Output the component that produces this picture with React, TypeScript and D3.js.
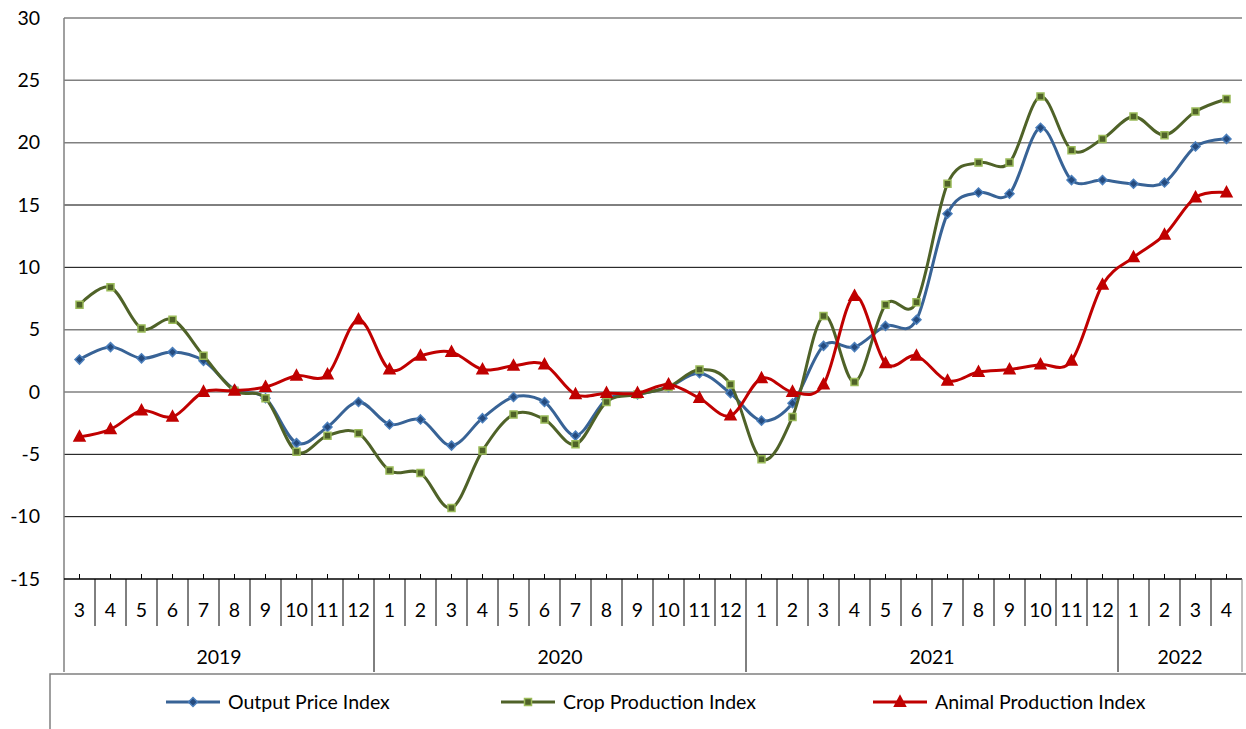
import React, { useRef, useEffect } from "react";
import * as d3 from "d3";

const years = [
  { year: "2019", months: [3, 4, 5, 6, 7, 8, 9, 10, 11, 12] },
  { year: "2020", months: [1, 2, 3, 4, 5, 6, 7, 8, 9, 10, 11, 12] },
  { year: "2021", months: [1, 2, 3, 4, 5, 6, 7, 8, 9, 10, 11, 12] },
  { year: "2022", months: [1, 2, 3, 4] },
];

const outputPrice = [
  2.6, 3.6, 2.7, 3.2, 2.5, 0.2, -0.5, -4.1, -2.8, -0.8,
  -2.6, -2.2, -4.3, -2.1, -0.4, -0.8, -3.5, -0.6, -0.2, 0.4, 1.5, -0.1,
  -2.3, -0.9, 3.7, 3.6, 5.3, 5.8, 14.3, 16.0, 15.9, 21.2, 17.0, 17.0,
  16.7, 16.8, 19.7, 20.3,
];
const cropProduction = [
  7.0, 8.4, 5.1, 5.8, 2.9, 0.1, -0.5, -4.8, -3.5, -3.3,
  -6.3, -6.5, -9.3, -4.7, -1.8, -2.2, -4.2, -0.8, -0.2, 0.4, 1.8, 0.6,
  -5.4, -2.0, 6.1, 0.8, 7.0, 7.2, 16.7, 18.4, 18.4, 23.7, 19.4, 20.3,
  22.1, 20.6, 22.5, 23.5,
];
const animalProduction = [
  -3.6, -3.0, -1.5, -2.0, 0.0, 0.1, 0.4, 1.3, 1.4, 5.8,
  1.8, 2.9, 3.2, 1.8, 2.1, 2.2, -0.2, -0.1, -0.1, 0.6, -0.5, -1.9,
  1.1, 0.0, 0.6, 7.7, 2.3, 2.9, 0.9, 1.6, 1.8, 2.2, 2.5, 8.6,
  10.8, 12.6, 15.6, 16.0,
];
const yTicks = [30, 25, 20, 15, 10, 5, 0, -5, -10, -15];
const darkGrid = [15, 10, -5, -10];

const series = [
  { name: "Output Price Index", values: outputPrice, color: "#386396", marker: "diamond", mFill: "#254B7E", mStroke: "#4A7EBB" },
  { name: "Crop Production Index", values: cropProduction, color: "#4F6228", marker: "square", mFill: "#4F6228", mStroke: "#9BBB59" },
  { name: "Animal Production Index", values: animalProduction, color: "#C00000", marker: "triangle", mFill: "#C00000", mStroke: "#C00000" },
];

const App: React.FC = () => {
  const ref = useRef<SVGSVGElement | null>(null);
  const width = 1246;
  const height = 729;
  const left = 64, right = 1242, top = 18, bottom = 579;
  const font = "Lato, 'Noto Sans', sans-serif";

  useEffect(() => {
    const svg = d3.select(ref.current);
    svg.selectAll("*").remove();

    const cats: string[] = [];
    years.forEach((y) => y.months.forEach((m) => cats.push(y.year + "-" + m)));

    const x = d3.scaleBand().domain(cats).range([left, right]);
    const y = d3.scaleLinear().domain([-15, 30]).range([bottom, top]);
    const cx = (i: number) => (x(cats[i]) as number) + x.bandwidth() / 2;

    // grid
    yTicks.forEach((t) => {
      if (t === -15) return;
      const dark = darkGrid.includes(t);
      svg.append("line")
        .attr("x1", left).attr("x2", right)
        .attr("y1", y(t)).attr("y2", y(t))
        .attr("stroke", dark ? "#000" : "#808080")
        .attr("stroke-width", dark ? 1 : 1.5);
      });
    svg.append("g").selectAll("text").data(yTicks).join("text")
      .attr("x", 40).attr("y", (d) => y(d)).attr("dy", "0.35em")
      .attr("text-anchor", "end").attr("font-size", 19.5).attr("font-family", font)
      .text((d) => d);

    // axes
    svg.append("line").attr("x1", left).attr("x2", left).attr("y1", top).attr("y2", 672)
      .attr("stroke", "#808080").attr("stroke-width", 1.5);
    svg.append("line").attr("x1", left).attr("x2", right).attr("y1", bottom).attr("y2", bottom)
      .attr("stroke", "#000").attr("stroke-width", 1.5);
    svg.append("line").attr("x1", right).attr("x2", right).attr("y1", bottom).attr("y2", 672)
      .attr("stroke", "#808080").attr("stroke-width", 1);

    // category ticks and labels
    let idx = 0;
    years.forEach((yr, yi) => {
      const start = idx;
      yr.months.forEach((m, mi) => {
        const c = cx(idx);
        svg.append("line").attr("x1", c).attr("x2", c).attr("y1", bottom - 5).attr("y2", bottom)
          .attr("stroke", "#000").attr("stroke-width", 1);
        svg.append("text").attr("x", c).attr("y", 610).attr("dy", "0.35em")
          .attr("text-anchor", "middle").attr("font-size", 19.5).attr("font-family", font)
          .text(m);
        if (mi > 0) {
          const bx = x(cats[idx]) as number;
          svg.append("line").attr("x1", bx).attr("x2", bx).attr("y1", bottom).attr("y2", 626)
            .attr("stroke", "#000").attr("stroke-width", 1);
        }
        idx++;
      });
      const x0 = x(cats[start]) as number;
      const x1 = (x(cats[idx - 1]) as number) + x.bandwidth();
      if (yi > 0) {
        svg.append("line").attr("x1", x0).attr("x2", x0).attr("y1", bottom).attr("y2", 672)
          .attr("stroke", "#000").attr("stroke-width", 1);
      }
      svg.append("text").attr("x", (x0 + x1) / 2).attr("y", 657).attr("dy", "0.35em")
        .attr("text-anchor", "middle").attr("font-size", 19.5).attr("font-family", font)
        .text(yr.year);
    });

    // legend box
    svg.append("path").attr("d", `M50,${height}V674H${width}`)
      .attr("fill", "none").attr("stroke", "#808080").attr("stroke-width", 1.5);

    const markerPath = (type: string, s: number) => {
      if (type === "diamond") return `M0,${-s}L${s},0L0,${s}L${-s},0Z`;
      if (type === "square") return `M${-s},${-s}H${s}V${s}H${-s}Z`;
      return `M0,${-s * 1.1}L${s},${s * 0.75}H${-s}Z`;
    };
    const markerSize = (type: string) => (type === "diamond" ? 4.5 : type === "square" ? 3.5 : 5.5);

    const line = d3.line<number>()
      .x((_, i) => cx(i))
      .y((d) => y(d))
      .curve(d3.curveCardinal.tension(0));

    series.forEach((s) => {
      const g = svg.append("g");
      g.append("path").attr("d", line(s.values) as string)
        .attr("fill", "none").attr("stroke", s.color).attr("stroke-width", 3)
        .attr("stroke-linejoin", "round");
      g.selectAll("path.m").data(s.values).join("path").attr("class", "m")
        .attr("transform", (d, i) => `translate(${cx(i)},${y(d)})`)
        .attr("d", markerPath(s.marker, markerSize(s.marker)))
        .attr("fill", s.mFill).attr("stroke", s.mStroke).attr("stroke-width", 1.5);
    });

    // legend items
    const legendX = [166, 501, 873];
    series.forEach((s, i) => {
      const lx = legendX[i];
      const ly = 702;
      svg.append("line").attr("x1", lx).attr("x2", lx + 54).attr("y1", ly).attr("y2", ly)
        .attr("stroke", s.color).attr("stroke-width", 3);
      svg.append("path").attr("transform", `translate(${lx + 27},${ly})`)
        .attr("d", markerPath(s.marker, markerSize(s.marker)))
        .attr("fill", s.mFill).attr("stroke", s.mStroke).attr("stroke-width", 1.5);
      svg.append("text").attr("x", lx + 62).attr("y", ly).attr("dy", "0.35em")
        .attr("font-size", 19.5).attr("font-family", font).attr("fill", "#000")
        .text(s.name);
    });
  }, []);

  return (
    <svg
      ref={ref}
      width={width}
      height={height}
      style={{ position: "absolute", left: 0, top: 0, background: "#fff" }}
    ></svg>
  );
};

export default App;
